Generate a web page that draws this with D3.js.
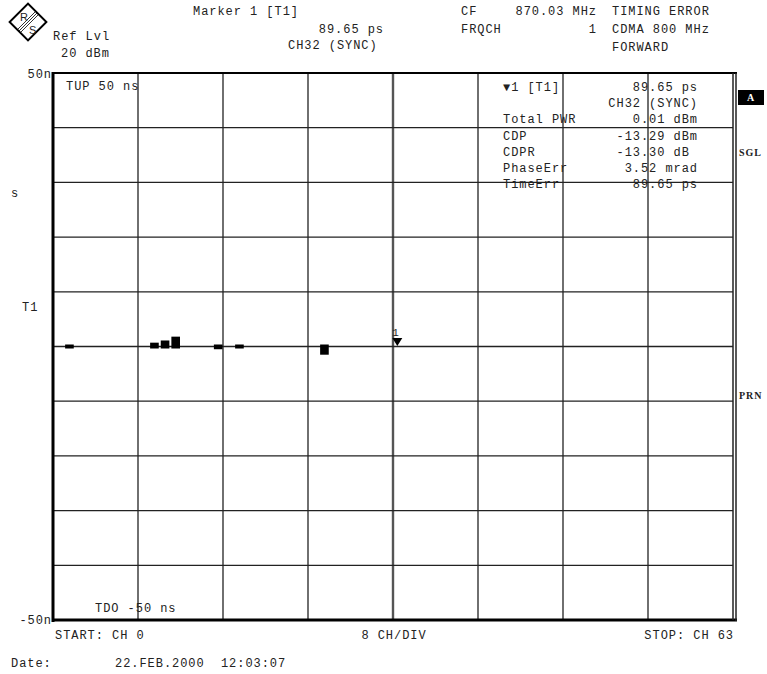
<!DOCTYPE html>
<html>
<head>
<meta charset="UTF-8">
<title>Timing Error</title>
<style>
  body { margin: 0; background: #fff; }
  svg text { font-family: "Courier New", "Liberation Mono", monospace; font-size: 12px; letter-spacing: 0.95px; fill: #222; white-space: pre; }
</style>
</head>
<body>
<script src="https://cdn.jsdelivr.net/npm/d3@7"></script>
<script>
// channel data (timing error per active channel, ns)
const channels = [1, 9, 10, 11, 15, 17, 25];
const timeErr  = [0.2, 0.7, 1.1, 1.8, -0.5, 0.2, -1.5];
const markerCh = 32;
const markerVal = 0.08965;

const markerLabels = ["\u25BC1 [T1]", "", "Total PWR", "CDP", "CDPR", "PhaseErr", "TimeErr"];
const markerValues = ["89.65 ps", "CH32 (SYNC)", "0.01 dBm", "-13.29 dBm", "-13.30 dB ", "3.52 mrad", "89.65 ps"];

const width = 767, height = 674;
const L = 53, R = 733, T = 73, B = 620;

const svg = d3.select("body").append("svg")
  .attr("width", width).attr("height", height);

const x = d3.scaleLinear().domain([0, 64]).range([L, R]);
const y = d3.scaleLinear().domain([-50, 50]).range([B, T]);

// grid
const grid = svg.append("g").attr("stroke", "#222").attr("stroke-width", 1.3);
grid.selectAll("line.v").data(d3.range(8, 64, 8)).enter().append("line")
  .attr("x1", d => x(d)).attr("x2", d => x(d))
  .attr("y1", T).attr("y2", B)
  .attr("stroke-width", d => d === 32 ? 2.4 : 1.3)
  .attr("stroke", d => d === 32 ? "#555" : "#222");
grid.selectAll("line.h").data(d3.range(-40, 50, 10)).enter().append("line")
  .attr("y1", d => y(d)).attr("y2", d => y(d))
  .attr("x1", L).attr("x2", R);

// frame
svg.append("line").attr("x1", L).attr("x2", L).attr("y1", T - 1).attr("y2", B + 2)
  .attr("stroke", "#000").attr("stroke-width", 3);
svg.append("line").attr("x1", L).attr("x2", R + 4).attr("y1", B).attr("y2", B)
  .attr("stroke", "#000").attr("stroke-width", 3);
svg.append("line").attr("x1", L).attr("x2", R + 4).attr("y1", T).attr("y2", T)
  .attr("stroke", "#000").attr("stroke-width", 2);
svg.append("line").attr("x1", R).attr("x2", R).attr("y1", T).attr("y2", B)
  .attr("stroke", "#222").attr("stroke-width", 1.5);
svg.append("line").attr("x1", R + 3).attr("x2", R + 3).attr("y1", T).attr("y2", B + 1)
  .attr("stroke", "#222").attr("stroke-width", 1.5);

// bars
const bw = x(1) - x(0);
svg.append("g").selectAll("rect").data(channels).enter().append("rect")
  .attr("x", d => x(d) + 1.5)
  .attr("width", bw - 2)
  .attr("y", (d, i) => Math.min(y(timeErr[i]), y(0) - 2))
  .attr("height", (d, i) => Math.max(y(timeErr[i]), y(0) + 2) - Math.min(y(timeErr[i]), y(0) - 2))
  .attr("fill", "#000");

// marker
const mx = x(markerCh) + bw / 2 - 1, my = y(markerVal);
svg.append("path")
  .attr("d", `M${mx - 5},${my - 8}L${mx + 5},${my - 8}L${mx},${my}Z`)
  .attr("fill", "#000");
svg.append("text").attr("x", mx - 5).attr("y", my - 10).style("font-size", "11px").text("1");

// in-plot labels
svg.append("text").attr("x", 66).attr("y", 90).text("TUP 50 ns");
svg.append("text").attr("x", 95).attr("y", 612).text("TDO -50 ns");

// marker table
const tbl = svg.append("g");
tbl.selectAll("text.l").data(markerLabels).enter().append("text")
  .attr("x", 503).attr("y", (d, i) => 91 + i * 16.2)
  .text(d => d);
tbl.selectAll("text.v").data(markerValues).enter().append("text")
  .attr("x", 698).attr("y", (d, i) => 91 + i * 16.2)
  .attr("text-anchor", "end")
  .text(d => d);

// axis labels
svg.append("text").attr("x", 52).attr("y", 78).attr("text-anchor", "end").text("50n");
svg.append("text").attr("x", 52).attr("y", 624).attr("text-anchor", "end").text("-50n");
svg.append("text").attr("x", 11).attr("y", 197).text("s");
svg.append("text").attr("x", 22).attr("y", 311).text("T1");

// right side
svg.append("rect").attr("x", 738).attr("y", 90).attr("width", 26).attr("height", 15).attr("fill", "#000");
svg.append("text").attr("x", 751).attr("y", 101).attr("text-anchor", "middle")
  .style("font-size", "10px").style("font-weight", "bold").style("fill", "#fff").style("font-family", "Liberation Serif, serif").text("A");
svg.append("text").attr("x", 739).attr("y", 156).style("font-size", "10px").style("font-weight", "bold").style("font-family", "Liberation Serif, serif").text("SGL");
svg.append("text").attr("x", 739).attr("y", 399).style("font-size", "10px").style("font-weight", "bold").style("font-family", "Liberation Serif, serif").text("PRN");

// header
svg.append("text").attr("x", 53).attr("y", 40).text("Ref Lvl");
svg.append("text").attr("x", 61).attr("y", 57).text("20 dBm");
svg.append("text").attr("x", 193).attr("y", 15).text("Marker 1 [T1]");
svg.append("text").attr("x", 384).attr("y", 33).attr("text-anchor", "end").text("89.65 ps");
svg.append("text").attr("x", 288).attr("y", 49).text("CH32 (SYNC)");
svg.append("text").attr("x", 461).attr("y", 15).text("CF");
svg.append("text").attr("x", 597).attr("y", 15).attr("text-anchor", "end").text("870.03 MHz");
svg.append("text").attr("x", 461).attr("y", 33).text("FRQCH");
svg.append("text").attr("x", 597).attr("y", 33).attr("text-anchor", "end").text("1");
svg.append("text").attr("x", 612).attr("y", 15).text("TIMING ERROR");
svg.append("text").attr("x", 612).attr("y", 33).text("CDMA 800 MHz");
svg.append("text").attr("x", 612).attr("y", 51).text("FORWARD");

// bottom
svg.append("text").attr("x", 55).attr("y", 639).text("START: CH 0");
svg.append("text").attr("x", 394).attr("y", 639).attr("text-anchor", "middle").text("8 CH/DIV");
svg.append("text").attr("x", 734).attr("y", 639).attr("text-anchor", "end").text("STOP: CH 63");
svg.append("text").attr("x", 11).attr("y", 667).text("Date:");
svg.append("text").attr("x", 115).attr("y", 667).text("22.FEB.2000  12:03:07");

// R&S logo
const logo = svg.append("g").attr("transform", "translate(28,22)");
logo.append("rect").attr("x", -13).attr("y", -13).attr("width", 26).attr("height", 26)
  .attr("transform", "rotate(45)").attr("fill", "#fff").attr("stroke", "#000").attr("stroke-width", 2);
[-1.5, 0, 1.5].forEach(o => logo.append("line")
  .attr("x1", -9 + o).attr("y1", 9 + o).attr("x2", 9 + o).attr("y2", -9 + o)
  .attr("stroke", "#000").attr("stroke-width", 0.8));
logo.append("text").attr("x", -8).attr("y", -1).style("font-size", "11px").style("letter-spacing", "0").style("font-family", "Liberation Sans, sans-serif").text("R");
logo.append("text").attr("x", 1).attr("y", 12).style("font-size", "11px").style("letter-spacing", "0").style("font-family", "Liberation Sans, sans-serif").text("S");
</script>
</body>
</html>
